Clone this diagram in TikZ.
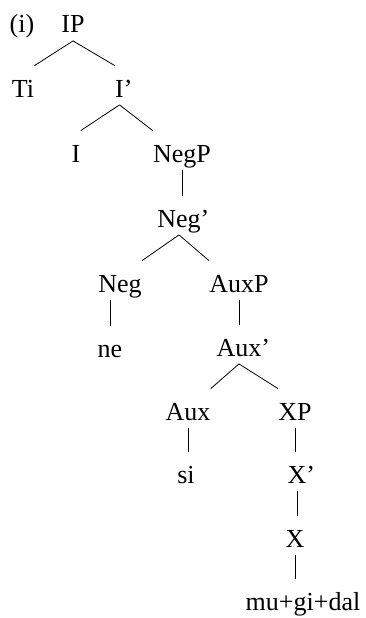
\documentclass[tikz,border=0pt]{standalone}
\usepackage{fontspec}
\setmainfont{Liberation Serif}
\usepackage{tikz}

\begin{document}
\begin{tikzpicture}[x=1pt, y=-1pt, line width=0.8pt,
                    font=\fontsize{26}{30}\selectfont,
                    cat/.style={inner sep=0pt, anchor=base, text height=31pt, text depth=7.5pt}]
                    \useasboundingbox (0,0) rectangle (365,618);

                    % Example number
                    \node[cat] (exnum) at (22, 33) {(i)};

                    % Categories, row by row
                    \node[cat] (ip) at (73, 33) {IP};
                    \node[cat] (ti) at (23, 97) {Ti};
                    \node[cat] (ibar) at (119.5, 97) {I\rlap{’}};
                    \node[cat] (i) at (76, 162) {I};
                    \node[cat] (negp) at (182, 162) {NegP};
                    \node[cat] (negbar) at (179, 227) {Neg\rlap{’}};
                    \node[cat] (neg) at (120, 292) {Neg};
                    \node[cat] (auxp) at (239, 292) {AuxP};
                    \node[cat] (ne) at (110, 357) {ne};
                    \node[cat] (auxbar) at (239, 356) {Aux\rlap{’}};
                    \node[cat] (aux) at (188, 420) {Aux};
                    \node[cat] (xp) at (295, 420) {XP};
                    \node[cat] (si) at (186, 483) {si};
                    \node[cat] (xbar) at (297, 483) {X\rlap{’}};
                    \node[cat] (x) at (295, 547) {X};
                    \node[cat] (verb) at (303, 610) {mu+gi+dal};

                    % Branching nodes
                    \draw (ip.south) -- (ti.north east);
                    \draw (ip.south) -- (ibar.north west);
                    \draw (ibar.south) -- (i.north east);
                    \draw (ibar.south) -- (negp.north west);
                    \draw (negbar.south) -- (neg.north east);
                    \draw (negbar.south) -- (auxp.north west);
                    \draw (auxbar.south) -- (aux.north east);
                    \draw (auxbar.south) -- (xp.north west);

                    % Non-branching nodes
                    \draw (negp.south) -- (negp.south |- negbar.north);
                    \draw (ne.north |- neg.south) -- (ne.north);
                    \draw (auxp.south) -- (auxp.south |- auxbar.north);
                    \draw (aux.south) -- (aux.south |- si.north);
                    \draw (xp.south) -- (xp.south |- xbar.north);
                    \draw (xbar.south) -- (xbar.south |- x.north);
                    \draw (x.south) -- (x.south |- verb.north);
                \end{tikzpicture}
\end{document}
